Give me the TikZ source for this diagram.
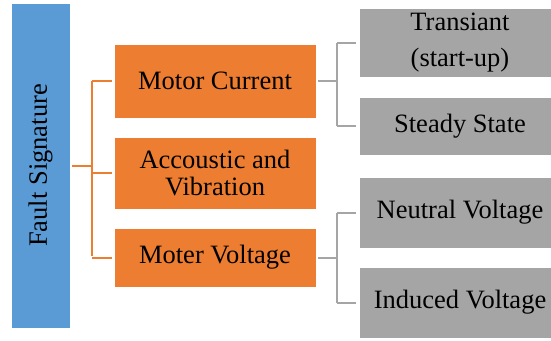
\documentclass[tikz,border=0pt]{standalone}
\usepackage{fontspec}
\setmainfont{Liberation Serif}
\definecolor{sblue}{HTML}{5B9BD5}
\definecolor{sorange}{HTML}{ED7D31}
\definecolor{sgray}{HTML}{A5A5A5}
\begin{document}
\begin{tikzpicture}[x=1pt,y=-1pt,
  box/.style={rectangle,inner sep=0pt,draw=white,line width=0.8pt,align=center,
    font=\fontsize{26.5}{32}\selectfont,text=black},
  obox/.style={box,fill=sorange,minimum width=202pt},
  gbox/.style={box,fill=sgray,minimum width=202pt},
  oline/.style={draw=sorange,line width=2pt},
  gline/.style={draw=sgray,line width=2pt}]
\useasboundingbox (0,0) rectangle (551,340);
\node[box,fill=sblue,minimum width=59pt,minimum height=325pt] (fs) at (40.5,165.5) {};
\node[font=\fontsize{26.5}{32}\selectfont,rotate=90,inner sep=0pt] (fstext) at (fs.center) {Fault Signature};
\node[obox,minimum height=74pt] (mc) at (215,81) {Motor Current};
\node[obox,minimum height=72pt,font=\fontsize{26.5}{27}\selectfont] (av) at (215,173) {Accoustic and\\Vibration};
\node[obox,minimum height=59pt] (mv) at (215,257.5) {Moter Voltage};
\node[gbox,minimum height=69pt,font=\fontsize{26.5}{36}\selectfont] (tr) at (460,42.5) {Transiant\\(start-up)};
\node[gbox,minimum height=58pt] (ss) at (460,126) {Steady State};
\node[gbox,minimum height=71pt] (nv) at (460,212.5) {Neutral Voltage};
\node[gbox,minimum height=71pt] (iv) at (460,302.5) {Induced Voltage};
\coordinate (oj) at (92,165.5);
\draw[oline,shorten <=2pt] (fs.east) -- (oj);
\draw[oline,shorten >=2pt] (oj |- mc.west) -- (oj |- mv.west);
\draw[oline,shorten >=2pt] (oj |- mc.west) -- (mc.west);
\draw[oline,shorten >=2pt] (oj |- av.west) -- (av.west);
\draw[oline,shorten >=2pt] (oj |- mv.west) -- (mv.west);
\coordinate (gj1) at (337,81);
\draw[gline,shorten <=2pt] (mc.east) -- (gj1);
\draw[gline] (gj1 |- tr.west) -- (gj1 |- ss.west);
\draw[gline,shorten >=3pt] (gj1 |- tr.west) -- (tr.west);
\draw[gline,shorten >=3pt] (gj1 |- ss.west) -- (ss.west);
\coordinate (gj2) at (337,257.5);
\draw[gline,shorten <=2pt] (mv.east) -- (gj2);
\draw[gline] (gj2 |- nv.west) -- (gj2 |- iv.west);
\draw[gline,shorten >=3pt] (gj2 |- nv.west) -- (nv.west);
\draw[gline,shorten >=3pt] (gj2 |- iv.west) -- (iv.west);
\end{tikzpicture}
\end{document}
